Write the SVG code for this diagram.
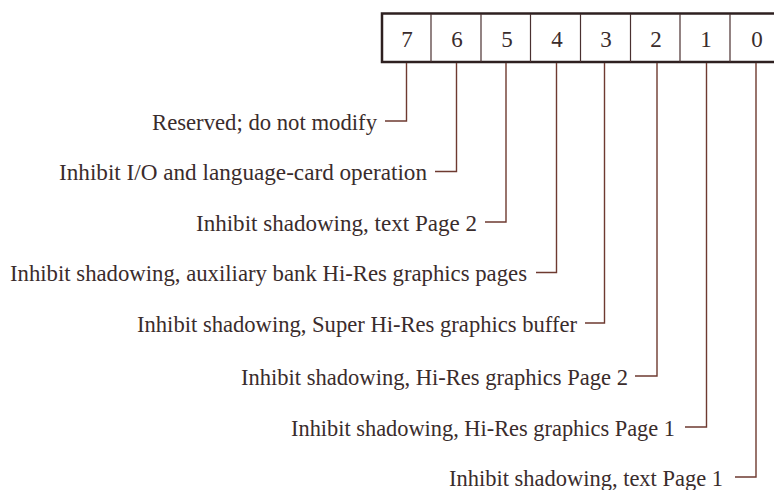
<svg xmlns="http://www.w3.org/2000/svg" width="774" height="490" viewBox="0 0 774 490">
  <style>
    .lbl { font-family: "Liberation Serif", "DejaVu Serif", serif; font-size: 24px; fill: #3a2c2c; }
    .bit { font-family: "Liberation Serif", "DejaVu Serif", serif; font-size: 23px; fill: #3a2c2c; text-anchor: middle; }
    .frame { fill: #ffffff; stroke: #2e2020; stroke-width: 2.5; }
    .div { stroke: #4a3030; stroke-width: 1.2; }
    .lead { fill: none; stroke: #6e3a30; stroke-width: 1.4; }
  </style>
  <rect width="774" height="490" fill="#ffffff"/>

  <!-- register: eight bit cells, 7 down to 0 -->
  <g id="register">
    <rect class="frame" x="382" y="13.5" width="400" height="48.5"/>
    <line class="div" x1="431" y1="14" x2="431" y2="62"/>
    <line class="div" x1="481" y1="14" x2="481" y2="62"/>
    <line class="div" x1="530.5" y1="14" x2="530.5" y2="62"/>
    <line class="div" x1="580.5" y1="14" x2="580.5" y2="62"/>
    <line class="div" x1="630.5" y1="14" x2="630.5" y2="62"/>
    <line class="div" x1="680" y1="14" x2="680" y2="62"/>
    <line class="div" x1="730" y1="14" x2="730" y2="62"/>
    <text class="bit" x="407" y="47">7</text>
    <text class="bit" x="457" y="47">6</text>
    <text class="bit" x="507" y="47">5</text>
    <text class="bit" x="557" y="47">4</text>
    <text class="bit" x="606" y="47">3</text>
    <text class="bit" x="656" y="47">2</text>
    <text class="bit" x="706" y="47">1</text>
    <text class="bit" x="757" y="47">0</text>
  </g>

  <!-- leader lines from each bit down to its description -->
  <g id="connectors">
    <polyline class="lead" points="406.5,63 406.5,121 385,121"/>
    <polyline class="lead" points="456.5,63 456.5,171.5 435,171.5"/>
    <polyline class="lead" points="506,63 506,222 485,222"/>
    <polyline class="lead" points="556.5,63 556.5,272.5 536,272.5"/>
    <polyline class="lead" points="604.5,63 604.5,323 585,323"/>
    <polyline class="lead" points="657,63 657,376 635,376"/>
    <polyline class="lead" points="706.5,63 706.5,427 685,427"/>
    <polyline class="lead" points="756,63 756,477 735,477"/>
  </g>

  <g id="bit7"><text class="lbl" x="152" y="129.5" textLength="225" lengthAdjust="spacingAndGlyphs">Reserved; do not modify</text></g>
  <g id="bit6"><text class="lbl" x="59" y="180" textLength="368" lengthAdjust="spacingAndGlyphs">Inhibit I/O and language-card operation</text></g>
  <g id="bit5"><text class="lbl" x="196" y="230.5" textLength="281" lengthAdjust="spacingAndGlyphs">Inhibit shadowing, text Page 2</text></g>
  <g id="bit4"><text class="lbl" x="10" y="281" textLength="517" lengthAdjust="spacingAndGlyphs">Inhibit shadowing, auxiliary bank Hi-Res graphics pages</text></g>
  <g id="bit3"><text class="lbl" x="137" y="331.5" textLength="440" lengthAdjust="spacingAndGlyphs">Inhibit shadowing, Super Hi-Res graphics buffer</text></g>
  <g id="bit2"><text class="lbl" x="241" y="384.5" textLength="387" lengthAdjust="spacingAndGlyphs">Inhibit shadowing, Hi-Res graphics Page 2</text></g>
  <g id="bit1"><text class="lbl" x="291" y="435.5" textLength="384" lengthAdjust="spacingAndGlyphs">Inhibit shadowing, Hi-Res graphics Page 1</text></g>
  <g id="bit0"><text class="lbl" x="449" y="485.5" textLength="274" lengthAdjust="spacingAndGlyphs">Inhibit shadowing, text Page 1</text></g>
</svg>
